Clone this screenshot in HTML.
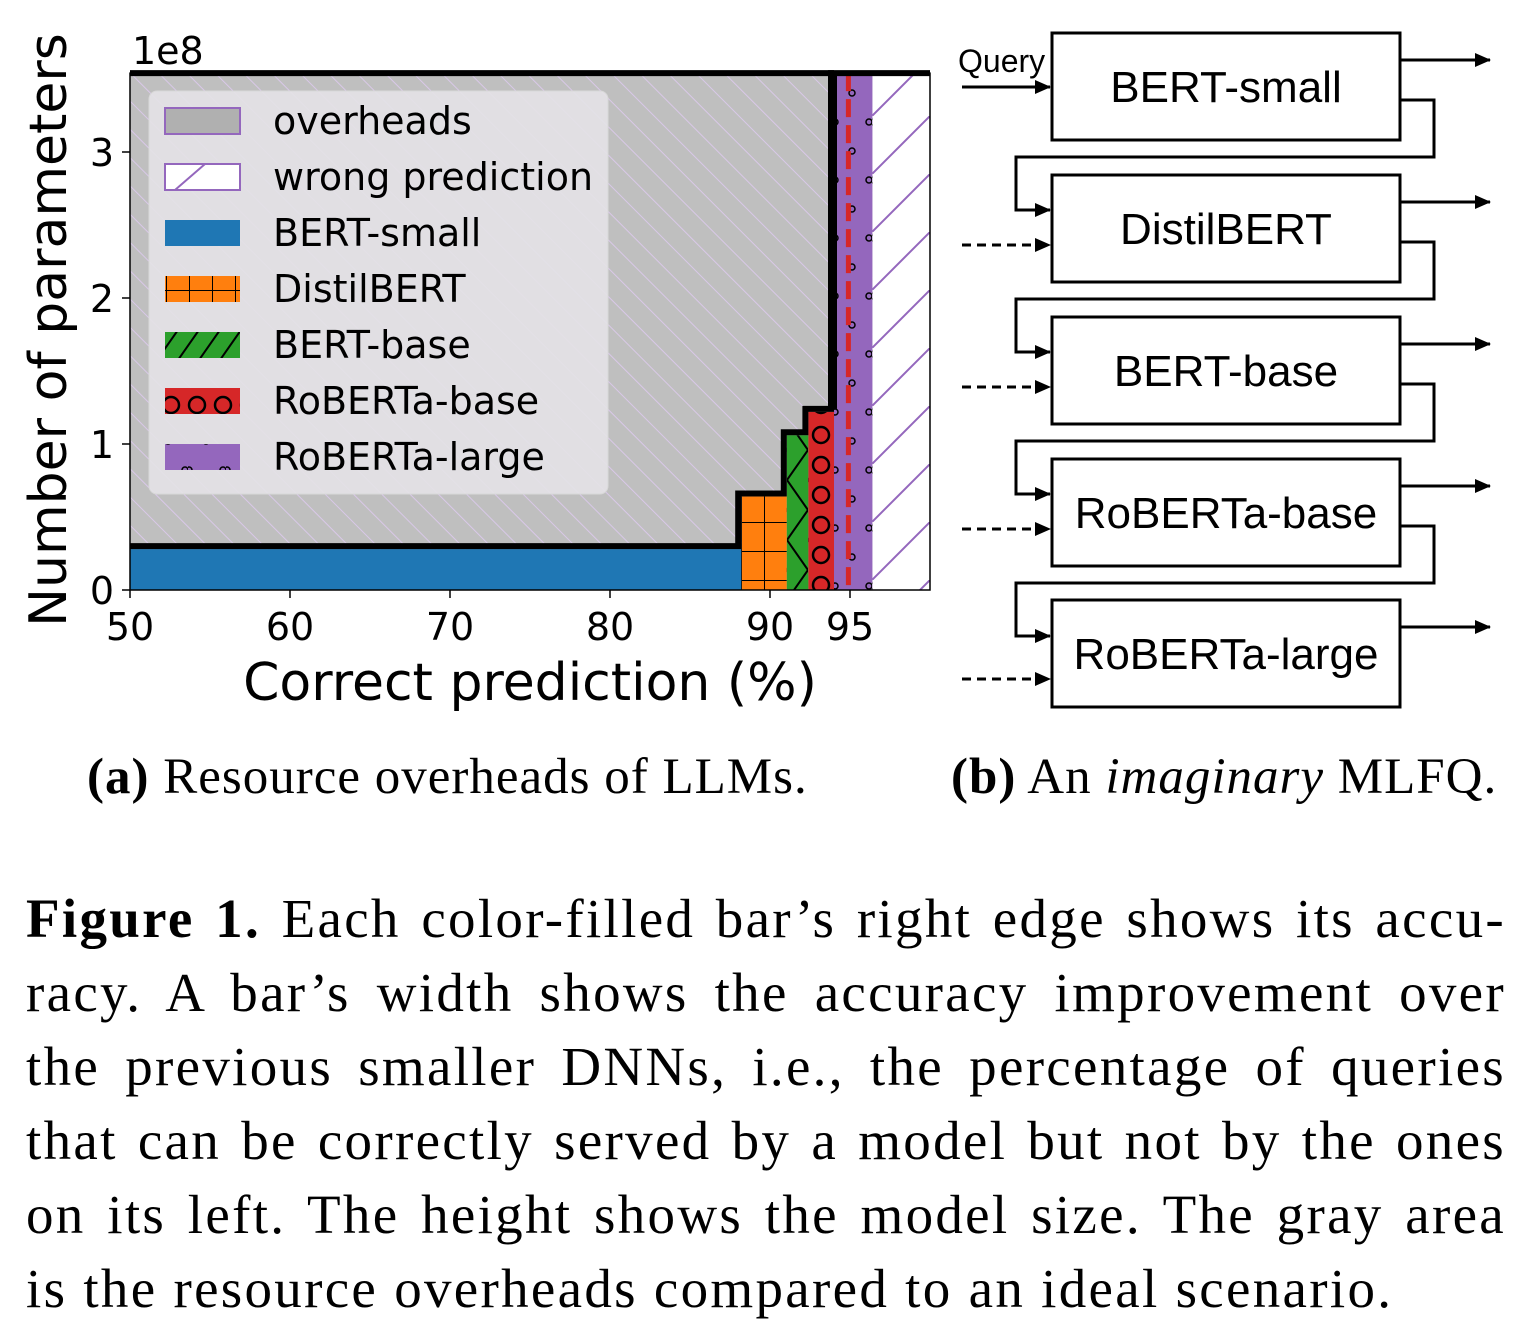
<!DOCTYPE html>
<html><head><meta charset="utf-8"><style>
body{margin:0;background:#fff;width:1529px;height:1335px;overflow:hidden;position:relative}
.cap{position:absolute;left:26px;width:1480px;font-family:"Liberation Serif",serif;font-size:55px;letter-spacing:2.3px;text-align:justify;text-align-last:justify;white-space:nowrap;line-height:1}
.sub{position:absolute;font-family:"Liberation Serif",serif;font-size:51px;letter-spacing:1px;white-space:nowrap}
</style></head><body>
<svg id="fig" width="1529" height="740" style="position:absolute;left:0;top:0" font-family="DejaVu Sans, Liberation Sans, sans-serif">
<defs>
<pattern id="ovh" width="20" height="20" patternUnits="userSpaceOnUse" patternTransform="rotate(-45)"><rect width="20" height="20" fill="#bfbfbf"/><line x1="0" y1="0" x2="0" y2="20" stroke="#d9c8e8" stroke-width="2"/></pattern>
<pattern id="wrong" width="58" height="58" patternUnits="userSpaceOnUse" x="872" y="0"><rect width="58" height="58" fill="#fff"/><line x1="0" y1="58" x2="58" y2="0" stroke="#9467bd" stroke-width="2"/></pattern>
<pattern id="grid" width="23" height="29" patternUnits="userSpaceOnUse" x="741" y="0"><rect width="23" height="29" fill="#ff7f0e"/><path d="M0 0V29M0 0H23" stroke="#000" stroke-width="2"/></pattern>
<pattern id="zig" width="21" height="60" patternUnits="userSpaceOnUse" x="787" y="0"><rect width="21" height="60" fill="#2ca02c"/><path d="M0 0L21 30L0 60" stroke="#000" stroke-width="2" fill="none"/></pattern>
<pattern id="circ" width="26" height="30" patternUnits="userSpaceOnUse" x="808" y="0"><rect width="26" height="30" fill="#d62728"/><circle cx="13" cy="15" r="8" stroke="#000" stroke-width="2.5" fill="none"/></pattern>
<pattern id="dots" width="38" height="58" patternUnits="userSpaceOnUse" x="834" y="0"><rect width="38" height="58" fill="#9467bd"/><g fill="none" stroke="#000" stroke-width="1.5"><circle cx="1" cy="6" r="3"/><circle cx="35" cy="6" r="3"/><circle cx="18" cy="35" r="3"/></g></pattern>
<marker id="arr" markerWidth="16" markerHeight="14" refX="15" refY="7" orient="auto" markerUnits="userSpaceOnUse"><path d="M0 0L16 7L0 14Z" fill="#000"/></marker>
</defs>
<g id="chart"></g>
<g id="diag"></g>
</svg>
<div class="sub" style="left:87px;top:748px"><b>(a)</b> Resource overheads of LLMs.</div>
<div class="sub" style="left:951px;top:748px"><b>(b)</b> An <i>imaginary</i> MLFQ.</div>
<div>
<div class="cap" style="top:891px"><b>Figure 1.</b> Each color-filled bar’s right edge shows its accu-</div>
<div class="cap" style="top:965px">racy. A bar’s width shows the accuracy improvement over</div>
<div class="cap" style="top:1039px">the previous smaller DNNs, i.e., the percentage of queries</div>
<div class="cap" style="top:1113px">that can be correctly served by a model but not by the ones</div>
<div class="cap" style="top:1187px">on its left. The height shows the model size. The gray area</div>
<div class="cap" style="top:1261px;text-align-last:left">is the resource overheads compared to an ideal scenario.</div>
</div>
<script>
const models=["BERT-small","DistilBERT","BERT-base","RoBERTa-base","RoBERTa-large"];
const accuracy=[88.2,91.05,92.4,94.0,96.4];
const params=[0.28,0.64,1.06,1.22,3.54];
const xTicks=[50,60,70,80,90,95];
const yTicks=[0,1,2,3];
const dashedAt=94.9;
const NS="http://www.w3.org/2000/svg";
const X=v=>130+(v-50)*16, Y=v=>590-v*146;
const g=document.getElementById('chart');
function el(t,a,p){const e=document.createElementNS(NS,t);for(const k in a)e.setAttribute(k,a[k]);(p||g).appendChild(e);return e;}
const pats=["#1f77b4","url(#grid)","url(#zig)","url(#circ)","url(#dots)"];
const maxP=params[params.length-1];
let r=el('rect',{x:X(50),y:Y(maxP),width:X(100)-X(50),height:Y(0)-Y(maxP),fill:'url(#ovh)'});


r=el('rect',{x:X(accuracy[4]),y:Y(maxP),width:X(100)-X(accuracy[4]),height:Y(0)-Y(maxP),fill:'url(#wrong)'});


let prev=50;
models.forEach((m,i)=>{
 const b=el('rect',{x:X(prev),y:Y(params[i]),width:X(accuracy[i])-X(prev),height:Y(0)-Y(params[i]),fill:pats[i]});
 
 
 prev=accuracy[i];
});
let d=`M${X(50)} ${Y(params[0])-3}`;prev=50;
models.forEach((m,i)=>{ if(i>0) d+=` L${X(prev)-3} ${Y(params[i-1])-3} L${X(prev)-3} ${Y(params[i])-3}`; prev=accuracy[i];});
d+=` L${X(accuracy[3])} ${Y(params[3])-3} L${X(accuracy[3])} ${Y(maxP)}`;
let s=el('path',{d:d,fill:'none',stroke:'#000','stroke-width':6});


s=el('line',{x1:X(dashedAt),x2:X(dashedAt),y1:Y(maxP),y2:Y(0),stroke:'#d62728','stroke-width':5,'stroke-dasharray':'18 8'});


el('rect',{x:X(50),y:Y(maxP),width:X(100)-X(50),height:Y(0)-Y(maxP),fill:'none',stroke:'#000','stroke-width':1.5});
el('line',{x1:X(50),x2:X(100),y1:Y(maxP),y2:Y(maxP),stroke:'#000','stroke-width':6});
xTicks.forEach(t=>{el('line',{x1:X(t),x2:X(t),y1:590,y2:598,stroke:'#000','stroke-width':1.5});
 const tx=el('text',{x:X(t),y:640,'font-size':38,'text-anchor':'middle'});tx.textContent=t;
 
 });
yTicks.forEach(t=>{el('line',{x1:122,x2:130,y1:Y(t),y2:Y(t),stroke:'#000','stroke-width':1.5});
 const tx=el('text',{x:114,y:Y(t)+14,'font-size':38,'text-anchor':'end'});tx.textContent=t;
 
 });
let t=el('text',{x:132,y:64,'font-size':38});t.textContent='1e8';


t=el('text',{x:530,y:700,'font-size':52,'text-anchor':'middle'});t.textContent='Correct prediction (%)';


t=el('text',{x:0,y:0,'font-size':52,'text-anchor':'middle',transform:'translate(66,330) rotate(-90)'});t.textContent='Number of parameters';


const lg=el('g',{});


el('rect',{x:149,y:91,width:459,height:403,rx:8,fill:'#e4e2e6','fill-opacity':0.92,stroke:'#d8d8d8'},lg);
const legLabels=["overheads","wrong prediction"].concat(models);
const legFills=["#b0b0b0","#fff"].concat(pats);
legLabels.forEach((l,i)=>{const y=121+i*56;
 const sw=el('rect',{x:165,y:y-13,width:75,height:26,fill:legFills[i],stroke:i<2?'#9467bd':'none','stroke-width':2},lg);
 
 
 if(i==1) el('line',{x1:175,y1:y+13,x2:205,y2:y-13,stroke:'#9467bd','stroke-width':2},lg);
 const tx=el('text',{x:273,y:y+13,'font-size':38},lg);tx.textContent=l;
 
 });
const dg=document.getElementById('diag');
const F='Liberation Sans, sans-serif';
const boxTops=[33,175,317,459,600];
models.forEach((m,i)=>{const y=boxTops[i];
 const b=el('rect',{x:1052,y:y,width:348,height:107,fill:'#fff',stroke:'#000','stroke-width':3},dg);
 
 
 const tx=el('text',{x:1226,y:y+69,'font-size':44,'text-anchor':'middle','font-family':F},dg);tx.textContent=m;
 
 
 el('line',{x1:1400,x2:1490,y1:y+27,y2:y+27,stroke:'#000','stroke-width':3,'marker-end':'url(#arr)'},dg);
 if(i<4){el('path',{d:`M1400 ${y+67}H1434V${y+124}H1016V${y+177}H1050`,fill:'none',stroke:'#000','stroke-width':3,'marker-end':'url(#arr)'},dg);}
 if(i>0){const yy=y+(i==4?79:70);el('line',{x1:962,x2:1050,y1:yy,y2:yy,stroke:'#000','stroke-width':3,'stroke-dasharray':'9 6','marker-end':'url(#arr)'},dg);}
});
el('line',{x1:962,x2:1050,y1:87,y2:87,stroke:'#000','stroke-width':3,'marker-end':'url(#arr)'},dg);
t=el('text',{x:958,y:72,'font-size':32,'font-family':F},dg);t.textContent='Query';


</script>
</body></html>
